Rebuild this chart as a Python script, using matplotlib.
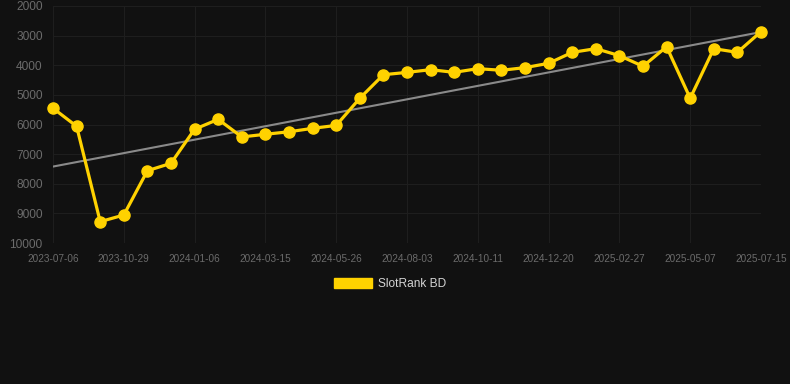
import numpy as np
import matplotlib
matplotlib.use("Agg")
import matplotlib.pyplot as plt
from matplotlib.patches import Patch

dates = ["2023-07-06", "2023-08-09", "2023-09-21", "2023-10-29", "2023-11-17", "2023-12-10",
         "2024-01-06", "2024-01-29", "2024-02-21", "2024-03-15", "2024-04-07", "2024-05-01",
         "2024-05-26", "2024-06-18", "2024-07-11", "2024-08-03", "2024-08-26", "2024-09-18",
         "2024-10-11", "2024-11-03", "2024-11-27", "2024-12-20", "2025-01-12", "2025-02-04",
         "2025-02-27", "2025-03-22", "2025-04-14", "2025-05-07", "2025-05-30", "2025-06-22",
         "2025-07-15"]
ranks = [5450, 6060, 9280, 9055, 7560, 7310,
         6160, 5825, 6420, 6330, 6245, 6130,
         6030, 5115, 4320, 4240, 4150, 4240,
         4115, 4170, 4080, 3935, 3565, 3440,
         3675, 4035, 3375, 5115, 3440, 3565,
         2865]
tick_labels = ["2023-07-06", "2023-10-29", "2024-01-06", "2024-03-15", "2024-05-26", "2024-08-03",
               "2024-10-11", "2024-12-20", "2025-02-27", "2025-05-07", "2025-07-15"]
trend = [7420, 2880]  # trend line, first and last point

bg = "#111111"
yellow = "#FFD200"

fig = plt.figure(figsize=(7.9, 3.84), dpi=100, facecolor=bg)
ax = fig.add_axes([53 / 790, 1 - 243 / 384, (761 - 53) / 790, (243 - 6) / 384])
ax.set_facecolor(bg)

x = np.arange(len(dates))
ax.plot([0, len(dates) - 1], trend, color="#8a8a8a", linewidth=1.5, zorder=2)
ax.plot(x, ranks, color=yellow, linewidth=2.3, marker="o", markersize=8,
        clip_on=False, zorder=3)

ax.set_xlim(0, len(dates) - 1)
ax.set_ylim(10000, 2000)
ax.set_yticks(range(2000, 10001, 1000))
ax.set_yticklabels([str(v) for v in range(2000, 10001, 1000)])
tick_pos = [dates.index(t) for t in tick_labels]
ax.set_xticks(tick_pos)
ax.set_xticklabels(tick_labels)

ax.grid(True, color="#1e1e1e", linewidth=0.8)
for s in ax.spines.values():
    s.set_visible(False)
ax.tick_params(axis="y", length=0, pad=7.5, labelsize=8.6, labelcolor="#6b6b6b")
ax.tick_params(axis="x", length=0, pad=8, labelsize=7.2, labelcolor="#6b6b6b")
for lab in ax.get_xticklabels() + ax.get_yticklabels():
    lab.set_fontfamily("Liberation Sans")

handle = Patch(facecolor=yellow, edgecolor=yellow)
leg = fig.legend([handle], ["SlotRank BD"], loc="center", bbox_to_anchor=(390 / 790, 1 - 284 / 384),
                 frameon=False, handlelength=3.2, handleheight=0.9, handletextpad=0.5,
                 prop={"family": "Liberation Sans", "size": 8.6})
for t in leg.get_texts():
    t.set_color("#d4d4d4")

fig.savefig("out.png", dpi=100, facecolor=bg)
